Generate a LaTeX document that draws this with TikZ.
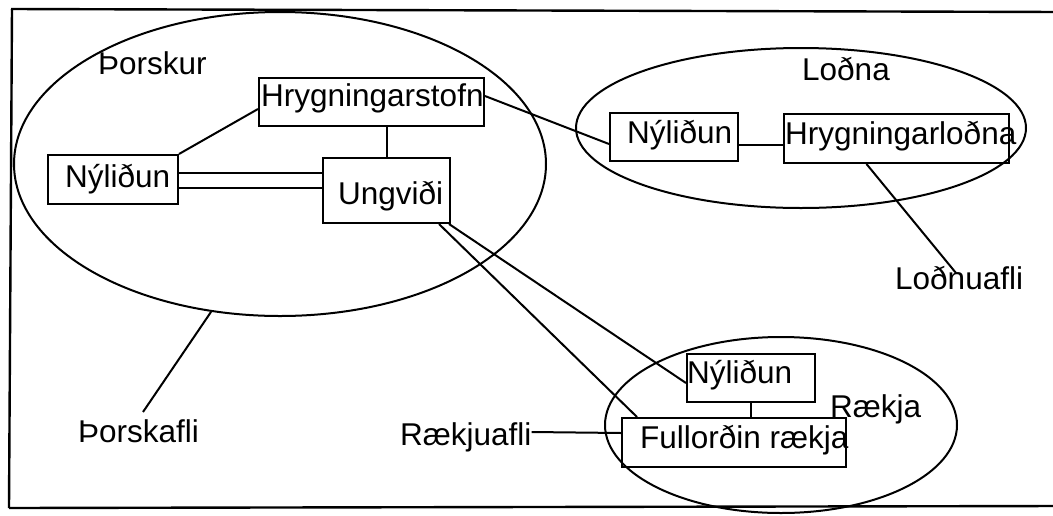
\documentclass[tikz,border=0pt]{standalone}
\usepackage{fontspec}
\setmainfont{Liberation Sans}
\usetikzlibrary{shapes.geometric,calc}
\tikzset{
  ln/.style={line width=2pt, draw=black},
  boxn/.style={draw=black, line width=2pt, rectangle, inner sep=0pt, anchor=north west},
  txt/.style={inner sep=0pt, anchor=base west, font=\fontsize{31.5}{32}\selectfont},
  ell/.style={draw=black, line width=2pt, ellipse, inner sep=0pt}
}
\begin{document}
\begin{tikzpicture}[x=1pt,y=-1pt]
\useasboundingbox (0,0) rectangle (1053,515);
\fill[white] (0,0) rectangle (1053,515);
% frame
\draw[line width=2.4pt] (11,9) -- (1060,12);
\draw[line width=2.4pt] (12,9) -- (9,508);
\draw[line width=2.4pt] (9,508) -- (1060,506);
% ellipses
\node[ell, minimum width=532pt, minimum height=304pt] (thor) at (280,164) {};
\node[ell, minimum width=450pt, minimum height=160pt] (lodna) at (801,128) {};
\node[ell, minimum width=352pt, minimum height=176pt] (raekja) at (781,425) {};
% boxes
\node[boxn, minimum width=225pt, minimum height=48pt] (hryg) at (258,77) {};
\node[boxn, minimum width=130pt, minimum height=49pt] (nyl1) at (47,154) {};
\node[boxn, minimum width=127pt, minimum height=65pt] (ung) at (322,157) {};
\node[boxn, minimum width=128pt, minimum height=48pt] (nyl2) at (609,112) {};
\node[boxn, minimum width=225pt, minimum height=49pt] (hl) at (783,113) {};
\node[boxn, minimum width=128pt, minimum height=48pt] (nyl3) at (686,353) {};
\node[boxn, minimum width=224pt, minimum height=49pt] (fr) at (621,417) {};
% texts
\node[txt] (tThor) at (98,74) {Þorskur};
\node[txt] (tHryg) at (261,106) {Hrygningarstofn};
\node[txt] (tNyl1) at (65,187) {Nýliðun};
\node[txt] (tUng) at (338,204) {Ungviði};
\node[txt] (tLodna) at (802,80) {Loðna};
\node[txt] (tNyl2) at (627,143) {Nýliðun};
\node[txt] (tHl) at (785,144) {Hrygningarloðna};
\node[txt] (tLafli) at (895,289) {Loðnuafli};
\node[txt] (tRaekja) at (830,417) {Rækja};
\node[txt] (tNyl3) at (687,383) {Nýliðun};
\node[txt] (tFr) at (640,448) {Fullorðin rækja};
\node[txt] (tRafli) at (400,445) {Rækjuafli};
\node[txt] (tThafli) at (78,442) {Þorskafli};
\coordinate (lafEnd) at (956,273);
\coordinate (thafEnd) at (143,412);
% connectors
\draw[ln] (nyl1.north east) -- ([yshift=-7pt]hryg.west);
\draw[ln] ([yshift=6.5pt]nyl1.east) -- ([yshift=6.5pt]nyl1.east -| ung.west);
\draw[ln] ([yshift=-8.5pt]nyl1.east) -- ([yshift=-8.5pt]nyl1.east -| ung.west);
\draw[ln] (ung.north) -- (ung.north |- hryg.south);
\draw[ln] ([yshift=6pt]hryg.east) -- ([yshift=-7pt]nyl2.west);
\draw[ln] ([yshift=-8pt]nyl2.east) -- ([yshift=-8pt]nyl2.east -| hl.west);
\draw[ln] ([xshift=-30pt]hl.south) -- (lafEnd);
\draw[ln] ([xshift=-2pt]ung.south east) -- ([yshift=-5pt]nyl3.west);
\draw[ln] ([xshift=-12pt]ung.south east) -- ([xshift=16pt]fr.north west);
\draw[ln] (nyl3.south) -- (nyl3.south |- fr.north);
\draw[ln] (tRafli.east |- 0,432) -- ([yshift=9.5pt]fr.west);
\draw[ln] (thafEnd) -- (thor.245);
\end{tikzpicture}
\end{document}
